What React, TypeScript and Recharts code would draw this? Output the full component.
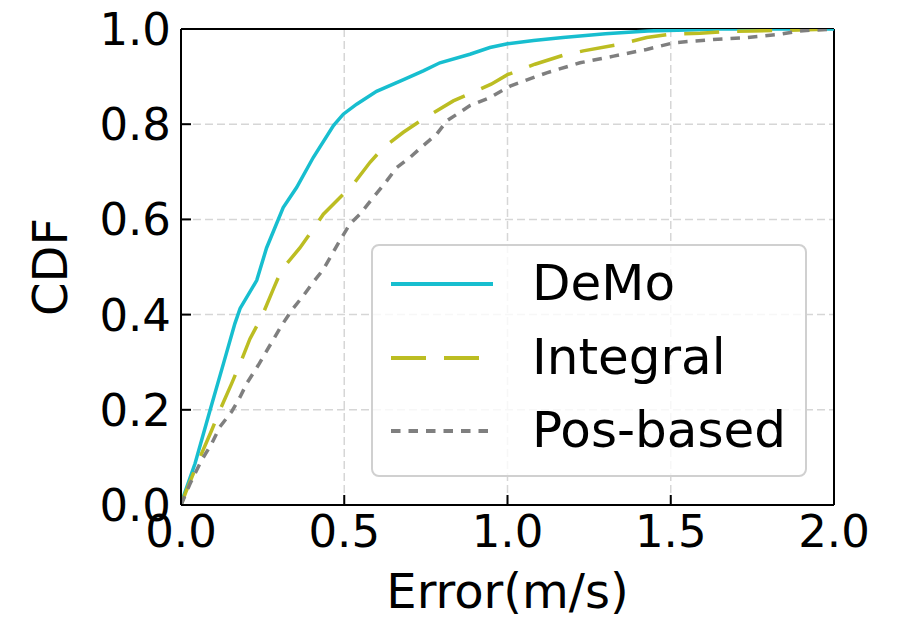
import React from "react";
import { LineChart, Line, XAxis, YAxis, CartesianGrid, ReferenceLine } from "recharts";

const xTicks = [0, 0.5, 1, 1.5, 2];
const yTicks = [0, 0.2, 0.4, 0.6, 0.8, 1];

const demoX = [0, 0.007, 0.043, 0.089, 0.13, 0.165, 0.181, 0.232, 0.262, 0.313, 0.354, 0.405, 0.467, 0.497, 0.538, 0.599, 0.68, 0.742, 0.793, 0.885, 0.946, 1.0, 1.08, 1.17, 1.3, 1.43, 1.55, 1.65, 2.0];
const demoY = [0, 0.017, 0.087, 0.199, 0.297, 0.381, 0.413, 0.472, 0.54, 0.625, 0.667, 0.73, 0.797, 0.821, 0.842, 0.869, 0.893, 0.912, 0.929, 0.947, 0.961, 0.969, 0.976, 0.982, 0.99, 0.996, 0.998, 1.0, 1.0];

const integralX = [0, 0.017, 0.063, 0.094, 0.119, 0.155, 0.181, 0.211, 0.247, 0.283, 0.308, 0.364, 0.405, 0.436, 0.487, 0.528, 0.579, 0.62, 0.681, 0.742, 0.834, 0.895, 0.95, 1.0, 1.084, 1.171, 1.232, 1.345, 1.426, 1.498, 1.59, 1.65, 1.75, 1.835, 2.0];
const integralY = [0, 0.031, 0.108, 0.157, 0.199, 0.255, 0.297, 0.349, 0.395, 0.454, 0.494, 0.54, 0.58, 0.611, 0.646, 0.674, 0.72, 0.751, 0.783, 0.811, 0.849, 0.867, 0.884, 0.904, 0.926, 0.945, 0.954, 0.968, 0.982, 0.989, 0.991, 0.994, 0.996, 0.997, 1.0];

const posX = [0, 0.028, 0.063, 0.094, 0.119, 0.155, 0.181, 0.201, 0.237, 0.278, 0.308, 0.339, 0.375, 0.405, 0.436, 0.487, 0.518, 0.548, 0.589, 0.63, 0.661, 0.701, 0.742, 0.783, 0.814, 0.885, 0.946, 1.008, 1.12, 1.222, 1.325, 1.426, 1.508, 1.63, 1.733, 1.835, 1.896, 2.0];
const posY = [0, 0.045, 0.094, 0.129, 0.164, 0.196, 0.227, 0.255, 0.294, 0.342, 0.377, 0.409, 0.44, 0.468, 0.495, 0.556, 0.591, 0.611, 0.646, 0.681, 0.709, 0.73, 0.755, 0.779, 0.807, 0.839, 0.856, 0.88, 0.908, 0.929, 0.943, 0.957, 0.971, 0.978, 0.982, 0.989, 0.996, 1.0];

const toPoints = (xs: number[], ys: number[]) => xs.map((x, i) => ({ x, y: ys[i] }));

const series = [
    { name: "DeMo", color: "#17becf", dash: undefined, data: toPoints(demoX, demoY) },
    { name: "Integral", color: "#bcbd22", dash: "35 18", data: toPoints(integralX, integralY) },
    { name: "Pos-based", color: "#7f7f7f", dash: "9.5 8", data: toPoints(posX, posY) },
];

const FONT = "DejaVu Sans";

export default function App() {
    return (
        <div style={{ position: "absolute", left: 0, top: 0, width: 897, height: 619, background: "#fff", fontFamily: FONT }}>
            <LineChart width={897} height={619} margin={{ top: 29, right: 63, left: 0, bottom: 0 }}>
                <CartesianGrid stroke="#d6d6d6" strokeWidth={1.5} strokeDasharray="8 4" />
                <XAxis
                    type="number"
                    dataKey="x"
                    domain={[0, 2]}
                    ticks={xTicks}
                    allowDataOverflow
                    height={114}
                    tickSize={-10}
                    tickMargin={20}
                    tickFormatter={(v: number) => v.toFixed(1)}
                    tick={{ fill: "#000", fontSize: 45, fontFamily: FONT }}
                    stroke="#000"
                    axisLine={{ stroke: "#000", strokeWidth: 2 }}
                    tickLine={{ stroke: "#000", strokeWidth: 2 }}
                    label={{ value: "Error(m/s)", position: "insideBottom", offset: 11, fill: "#000", fontSize: 48, fontFamily: FONT }}
                />
                <YAxis
                    type="number"
                    domain={[0, 1]}
                    ticks={yTicks}
                    allowDataOverflow
                    width={181}
                    tickSize={-10}
                    tickMargin={20}
                    tickFormatter={(v: number) => v.toFixed(1)}
                    tick={{ fill: "#000", fontSize: 45, fontFamily: FONT }}
                    stroke="#000"
                    axisLine={{ stroke: "#000", strokeWidth: 2 }}
                    tickLine={{ stroke: "#000", strokeWidth: 2 }}
                    label={() => (
                        <text x={50} y={267} transform="rotate(-90 50 267)" textAnchor="middle" dominantBaseline="central" fill="#000" fontSize={48} fontFamily={FONT}>
                            CDF
                        </text>
                    )}
                />
                <ReferenceLine x={2} stroke="#000" strokeWidth={2} />
                <ReferenceLine y={1} stroke="#000" strokeWidth={2} />
                {series.map((s) => (
                    <Line
                        key={s.name}
                        data={s.data}
                        dataKey="y"
                        type="linear"
                        stroke={s.color}
                        strokeWidth={3.5}
                        strokeDasharray={s.dash}
                        dot={false}
                        isAnimationActive={false}
                    />
                ))}
            </LineChart>
            <div
                style={{
                    position: "absolute",
                    left: 371,
                    top: 244,
                    width: 436,
                    height: 233,
                    border: "2px solid #d0d0d0",
                    borderRadius: 8,
                    background: "rgba(255,255,255,0.8)",
                    boxSizing: "border-box",
                }}
            >
                {series.map((s, i) => (
                    <div key={s.name} style={{ position: "absolute", left: 0, top: 38 + i * 73.5, height: 0 }}>
                        <svg width={110} height={10} style={{ position: "absolute", left: 18, top: -5 }}>
                            <line x1={0} y1={5} x2={102} y2={5} stroke={s.color} strokeWidth={4} strokeDasharray={s.dash} />
                        </svg>
                        <span style={{ position: "absolute", left: 159, top: -31, fontSize: 50, lineHeight: "60px", whiteSpace: "nowrap", color: "#000" }}>{s.name}</span>
                    </div>
                ))}
            </div>
        </div>
    );
}
